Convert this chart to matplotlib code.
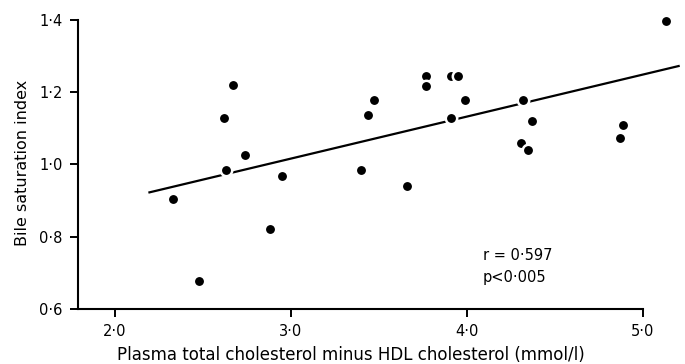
import matplotlib.pyplot as plt
import numpy as np

# data
chol = [2.33, 2.48, 2.62, 2.67, 2.63, 2.74, 2.88, 2.95,
        3.40, 3.44, 3.47, 3.66, 3.77, 3.77, 3.91, 3.95, 3.91, 3.99,
        4.32, 4.31, 4.35, 4.37, 4.87, 4.89, 5.13]
bsi = [0.904, 0.678, 1.128, 1.221, 0.985, 1.026, 0.820, 0.968,
       0.985, 1.137, 1.179, 0.939, 1.246, 1.217, 1.246, 1.246, 1.128, 1.178,
       1.177, 1.060, 1.040, 1.120, 1.073, 1.109, 1.397]
fit_x = [2.19, 5.21]
fit_y = [0.922, 1.273]

xticks = [2.0, 3.0, 4.0, 5.0]
yticks = [0.6, 0.8, 1.0, 1.2, 1.4]

def dot(v):
    return ('%.1f' % v).replace('.', '\u00b7')

fig = plt.figure(figsize=(6.85, 3.64), dpi=100)
ax = fig.add_axes([78/685, 55/364, 607/685, 309/364])

ax.plot(fit_x, fit_y, color='k', lw=1.6, zorder=2, solid_capstyle='butt')
ax.plot(chol, bsi, 'o', color='k', markersize=8.2, markeredgecolor='white',
        markeredgewidth=1.8, zorder=3, linestyle='none')

ax.set_xlim(1.79, 5.24)
ax.set_ylim(0.6, 1.455)
ax.spines['top'].set_visible(False)
ax.spines['right'].set_visible(False)
ax.spines['left'].set_bounds(0.6, 1.4)
ax.spines['bottom'].set_bounds(1.79, 5.0)
for s in ['left', 'bottom']:
    ax.spines[s].set_linewidth(1.5)
    ax.spines[s].set_clip_on(False)

ax.set_xticks(xticks)
ax.set_xticklabels([dot(v) for v in xticks])
ax.set_yticks(yticks)
ax.set_yticklabels([dot(v) for v in yticks])
ax.tick_params(direction='out', length=6, width=1.4, labelsize=10.5, pad=5)

ax.set_xlabel('Plasma total cholesterol minus HDL cholesterol (mmol/l)',
              fontsize=12)
ax.xaxis.set_label_coords((351 - 78) / 607, -(346 - 309) / 309)
ax.set_ylabel('Bile saturation index', fontsize=11.5)
ax.yaxis.set_label_coords(-(78 - 30) / 607, (309 - 163) / 309)

ax.text(4.09, 0.749, 'r = 0\u00b7597', fontsize=10.5, va='center', ha='left')
ax.text(4.09, 0.686, 'p<0\u00b7005', fontsize=10.5, va='center', ha='left')

fig.savefig('out.png', dpi=100)
